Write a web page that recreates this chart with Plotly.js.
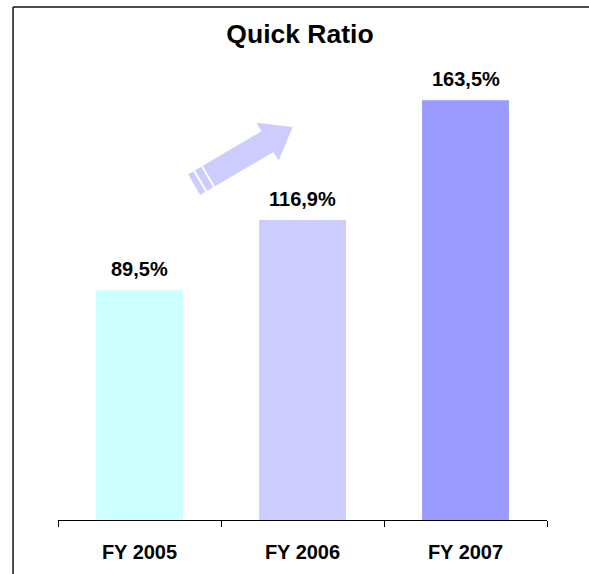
<!DOCTYPE html>
<html>
<head>
<meta charset="utf-8">
<script src="https://cdn.plot.ly/plotly-3.0.1.min.js"></script>
<style>html,body{margin:0;padding:0;background:#fff;}#chart{width:589px;height:574px;}</style>
</head>
<body>
<div id="chart"></div>
<script>
const categories = ['FY 2005', 'FY 2006', 'FY 2007'];
const quickRatio = [89.5, 116.9, 163.5];
const barColors = ['#CCFFFF', '#CCCCFF', '#9999FF'];
const chartTitle = 'Quick Ratio';

const W = 589, H = 574;
const M = {l: 58, r: 41.5, t: 58, b: 54};
const PW = W - M.l - M.r, PH = H - M.t - M.b;
function px(x) { return (x - M.l) / PW; }
function py(y) { return (H - M.b - y) / PH; }

// decorative arrow (pixel geometry -> paper coords)
const T = [209, 176], u = [0.864, -0.504], n = [0.504, 0.864];
function pt(s, w) { return [T[0] + s * u[0] + w * n[0], T[1] + s * u[1] + w * n[1]]; }
function poly(points) {
  return points.map((p, i) => (i ? 'L' : 'M') + px(p[0]).toFixed(5) + ',' + py(p[1]).toFixed(5)).join(' ') + ' Z';
}
const shaftHW = 12, headHW = 22, headBase = 68, tip = 97;
const arrowMain = poly([pt(0, -shaftHW), pt(headBase, -shaftHW), pt(headBase, -headHW), pt(tip, 0),
  pt(headBase, headHW), pt(headBase, shaftHW), pt(0, shaftHW)]);
const stripe2 = poly([pt(-9, -shaftHW), pt(-2, -shaftHW), pt(-2, shaftHW), pt(-9, shaftHW)]);
const stripe1 = poly([pt(-17, -shaftHW), pt(-11, -shaftHW), pt(-11, shaftHW), pt(-17, shaftHW)]);
const arrowColor = '#CCCCFF';

const font = 'Arial, "Liberation Sans", sans-serif';

const trace = {
  type: 'bar',
  x: categories,
  y: quickRatio,
  marker: {color: barColors, line: {width: 0}},
  width: 0.533,
  hoverinfo: 'none'
};

const annotations = categories.map((c, i) => ({
  x: c, y: quickRatio[i], xref: 'x', yref: 'y',
  text: '<b>' + quickRatio[i].toFixed(1).replace('.', ',') + '%</b>',
  showarrow: false, yanchor: 'bottom', yshift: 8,
  font: {family: font, size: 20, color: '#000'}
}));

const layout = {
  width: W, height: H,
  margin: M,
  paper_bgcolor: '#fff', plot_bgcolor: '#fff',
  showlegend: false,
  title: {
    text: '<b>' + chartTitle + '</b>',
    font: {family: font, size: 26.5, color: '#000'},
    x: 300 / W, xanchor: 'center', xref: 'container',
    y: 1 - 34 / H, yanchor: 'middle', yref: 'container'
  },
  xaxis: {
    type: 'category',
    range: [-0.5, 2.5],
    showline: true, linecolor: '#000', linewidth: 1,
    ticks: 'outside', tickson: 'boundaries', ticklen: 6, tickcolor: '#000', tickwidth: 1,
    ticklabelstandoff: 14,
    tickfont: {family: font, size: 20, color: '#000', weight: 'bold'},
    showgrid: false, zeroline: false, fixedrange: true
  },
  yaxis: {
    visible: false, range: [0, 180], showgrid: false, zeroline: false, fixedrange: true
  },
  annotations: annotations,
  shapes: [
    {type: 'path', xref: 'paper', yref: 'paper', path: arrowMain, fillcolor: arrowColor, line: {width: 0}},
    {type: 'path', xref: 'paper', yref: 'paper', path: stripe2, fillcolor: arrowColor, line: {width: 0}},
    {type: 'path', xref: 'paper', yref: 'paper', path: stripe1, fillcolor: arrowColor, line: {width: 0}},
    {type: 'line', xref: 'paper', yref: 'paper', x0: px(13), x1: px(13), y0: py(7), y1: py(600), line: {color: '#111', width: 1.5}},
    {type: 'line', xref: 'paper', yref: 'paper', x0: px(13), x1: px(620), y0: py(7), y1: py(7), line: {color: '#111', width: 1.5}}
  ]
};

Plotly.newPlot('chart', [trace], layout, {displayModeBar: false, staticPlot: true});
</script>
</body>
</html>
